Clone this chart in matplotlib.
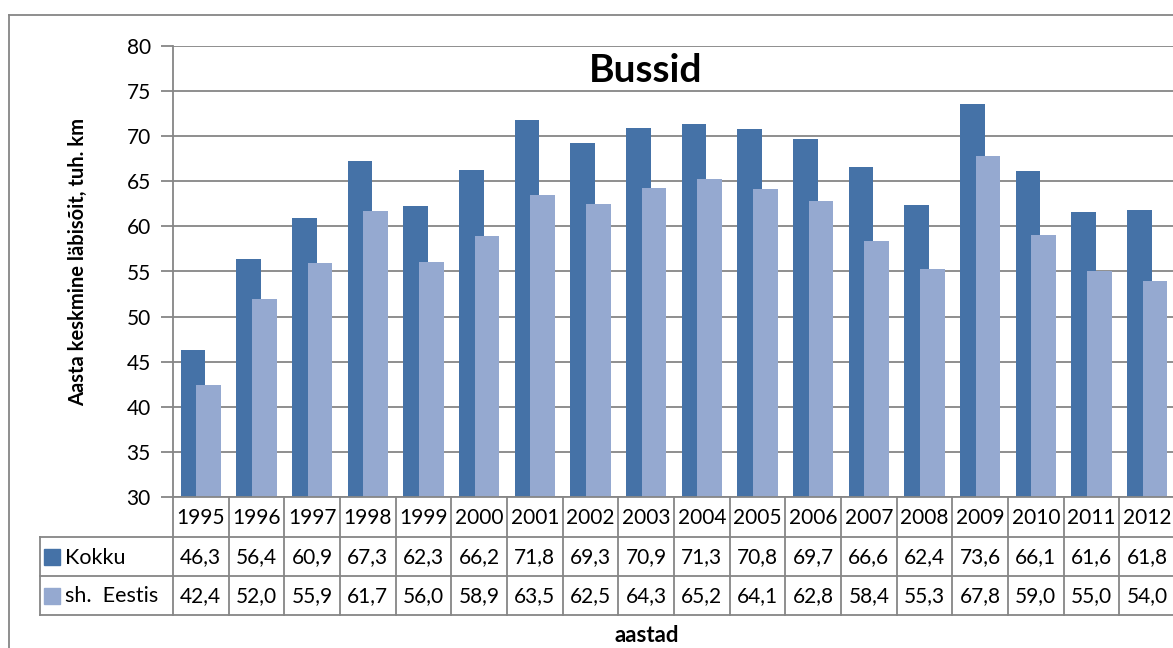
import matplotlib
matplotlib.use("Agg")
from matplotlib import pyplot as plt
from matplotlib.patches import Rectangle
import numpy as np

plt.rcParams['font.family'] = ['Lato', 'DejaVu Sans']

years = [str(y) for y in range(1995, 2013)]
kokku = [46.3, 56.4, 60.9, 67.3, 62.3, 66.2, 71.8, 69.3, 70.9, 71.3, 70.8, 69.7, 66.6, 62.4, 73.6, 66.1, 61.6, 61.8]
eestis = [42.4, 52.0, 55.9, 61.7, 56.0, 58.9, 63.5, 62.5, 64.3, 65.2, 64.1, 62.8, 58.4, 55.3, 67.8, 59.0, 55.0, 54.0]
series_names = ['Kokku', 'sh.  Eestis']

dark = '#4572a7'
light = '#95a9d0'
grid = '#868686'

W, H = 1173, 648
fig = plt.figure(figsize=(W / 100, H / 100), dpi=100)

# plot area in pixels
px_left, px_right, px_top, px_bot = 173, 1175, 46, 497
ax = fig.add_axes([px_left / W, (H - px_bot) / H, (px_right - px_left) / W, (px_bot - px_top) / H])

def fy(py):
    # pixel row (from top) -> figure fraction
    return (H - py) / H

def fx(px):
    return px / W

x = np.arange(len(years))
ax.bar(x - 0.14, kokku, width=0.44, color=dark, zorder=3)
ax.bar(x + 0.14, eestis, width=0.44, color=light, zorder=4)

ax.set_xlim(-0.5, len(years) - 0.5)
ax.set_ylim(30, 80)
ax.set_yticks(range(30, 81, 5))
ax.yaxis.grid(True, color=grid, linewidth=1.3, zorder=0)
ax.set_xticks([])
for s in ['top', 'right', 'bottom']:
    ax.spines[s].set_visible(False)
ax.spines['left'].set_color(grid)
ax.spines['left'].set_linewidth(1.3)
ax.tick_params(axis='y', length=9, width=1.3, color=grid, labelsize=15, pad=7)

fig.text(fx(646), fy(70), 'Bussid', fontsize=28, fontweight='bold', ha='center', va='center')
fig.text(fx(78), fy(262), 'Aasta keskmine läbisõit, tuh. km', fontsize=14.5, fontweight='bold',
         rotation=90, ha='center', va='center')
fig.text(fx(647), fy(636), 'aastad', fontsize=16, fontweight='bold', ha='center', va='center')

# data table below the axis
rows = [px_bot, 537, 576, 615]
tbl_left = 40
lw = 1.3
line_kw = dict(color=grid, linewidth=lw, transform=fig.transFigure, clip_on=False)

# horizontal lines
fig.add_artist(plt.Line2D([fx(px_left), 1.0], [fy(rows[0])] * 2, **line_kw))
for r in rows[1:]:
    fig.add_artist(plt.Line2D([fx(tbl_left), 1.0], [fy(r)] * 2, **line_kw))
# legend column left edge
fig.add_artist(plt.Line2D([fx(tbl_left)] * 2, [fy(rows[1]), fy(rows[3])], **line_kw))
# column boundaries
col_w = (px_right - px_left) / len(years)
for i in range(len(years) + 1):
    xb = px_left + i * col_w
    fig.add_artist(plt.Line2D([fx(xb)] * 2, [fy(rows[0]), fy(rows[3])], **line_kw))

for i, yr in enumerate(years):
    xc = px_left + (i + 0.5) * col_w
    fig.text(fx(xc), fy((rows[0] + rows[1]) / 2 + 1), yr, fontsize=15, ha='center', va='center')
    fig.text(fx(xc), fy((rows[1] + rows[2]) / 2 + 1), f'{kokku[i]:.1f}'.replace('.', ','),
             fontsize=15, ha='center', va='center')
    fig.text(fx(xc), fy((rows[2] + rows[3]) / 2 + 1), f'{eestis[i]:.1f}'.replace('.', ','),
             fontsize=15, ha='center', va='center')

for j, (name, col) in enumerate(zip(series_names, [dark, light])):
    yc = (rows[j + 1] + rows[j + 2]) / 2
    fig.add_artist(Rectangle((fx(44), fy(yc + 8)), 16 / W, 16 / H, color=col,
                             transform=fig.transFigure))
    fig.text(fx(65), fy(yc + 1), name, fontsize=15.5, ha='left', va='center')

# outer chart border
fig.add_artist(plt.Line2D([fx(9), 1.0], [fy(15)] * 2, **line_kw))
fig.add_artist(plt.Line2D([fx(9)] * 2, [fy(15), 0.0], **line_kw))

plt.savefig('out.png', dpi=100)
